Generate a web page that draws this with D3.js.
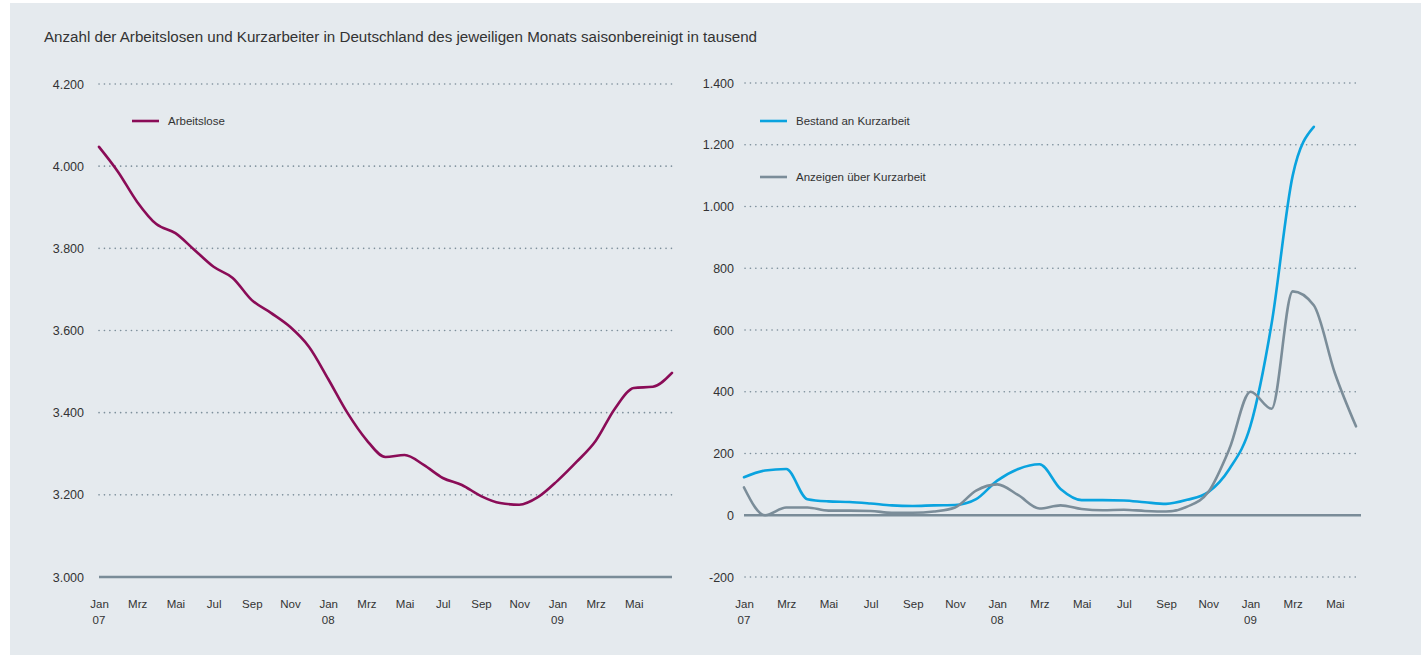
<!DOCTYPE html>
<html><head><meta charset="utf-8">
<script src="https://cdn.jsdelivr.net/npm/d3@7"></script>
<style>
html,body{margin:0;padding:0;background:#fff;}
svg{display:block;font-family:"Liberation Sans",Arial,sans-serif;}
</style></head>
<body><svg id="c" width="1421" height="655"></svg>
<script>
// ---- data ----
const xTickLabels = ["Jan","Mrz","Mai","Jul","Sep","Nov","Jan","Mrz","Mai","Jul","Sep","Nov","Jan","Mrz","Mai"];
const yearLabels = {0:"07",12:"08",24:"09"};
const leftTicks = [3000,3200,3400,3600,3800,4000,4200];
const rightTicks = [-200,0,200,400,600,800,1000,1200,1400];
// Arbeitslose, Jan 07 .. Jul 09 (thousand)
const arbeitslose = [4047,3986,3913,3859,3837,3796,3755,3728,3674,3643,3609,3560,3482,3400,3334,3292,3297,3273,3241,3224,3197,3180,3176,3195,3234,3280,3331,3409,3460,3463,3497];
// Bestand an Kurzarbeit, Jan 07 .. Apr 09
const bestand = [123,145,150,52,45,43,38,32,30,32,33,52,112,150,165,85,49,49,48,42,37,50,75,150,290,620,1100,1258];
// Anzeigen über Kurzarbeit, Jan 07 .. Jun 09
const anzeigen = [90,0,25,25,15,15,14,8,8,12,25,80,100,65,22,32,20,16,18,14,12,28,75,215,400,345,725,680,460,288];

const title = "Anzahl der Arbeitslosen und Kurzarbeiter in Deutschland des jeweiligen Monats saisonbereinigt in tausend";
const fmt = d3.formatLocale({decimal:",",thousands:".",grouping:[3],currency:["","€"],minus:"-"}).format(",d");

const C = {bg:"#e5eaee", text:"#333333", grid:"#7d8f9b", base:"#7a8c98",
  purple:"#8a0c57", blue:"#0aa3df", gray:"#7b8d99"};

const svg = d3.select("#c");
svg.append("rect").attr("x",10).attr("y",3).attr("width",1411).attr("height",652).attr("fill",C.bg);

svg.append("text").attr("x",44).attr("y",42).attr("font-size",14).attr("fill",C.text)
  .attr("textLength",713).attr("lengthAdjust","spacingAndGlyphs").text(title);

function panel(cfg){
  const x = d3.scaleLinear().domain(cfg.xDomain).range(cfg.xRange);
  const y = d3.scaleLinear().domain(cfg.yDomain).range(cfg.yRange);
  const g = svg.append("g");
  // grid
  cfg.ticks.forEach(t=>{
    if (t===cfg.baseVal) return;
    g.append("line").attr("x1",cfg.gridX[0]).attr("x2",cfg.gridX[1])
      .attr("y1",y(t)).attr("y2",y(t))
      .attr("stroke",C.grid).attr("stroke-width",1.6)
      .attr("stroke-dasharray","0.1,5.3").attr("stroke-linecap","round");
  });
  // y labels
  const ya = d3.axisLeft(y).tickValues(cfg.ticks).tickFormat(fmt).tickSize(0).tickPadding(0);
  const yg = g.append("g").attr("transform",`translate(${cfg.labelX},0)`).call(ya);
  yg.select(".domain").remove();
  yg.selectAll("text").attr("font-size",12.5).attr("fill",C.text).attr("font-family","Liberation Sans, Arial, sans-serif");
  // x labels
  const xt = d3.range(0,29,2);
  const xa = d3.axisBottom(x).tickValues(xt).tickFormat((d,i)=>xTickLabels[i]).tickSize(0).tickPadding(0);
  const xg = g.append("g").attr("transform",`translate(0,${cfg.xLabelY})`).call(xa);
  xg.select(".domain").remove();
  xg.selectAll("text").attr("font-size",11.5).attr("fill",C.text).attr("font-family","Liberation Sans, Arial, sans-serif");
  xt.forEach(d=>{
    if (yearLabels[d]!==undefined){
      g.append("text").attr("x",x(d)).attr("y",cfg.xLabelY+24).attr("text-anchor","middle")
        .attr("font-size",11.5).attr("fill",C.text).text(yearLabels[d]);
    }
  });
  // baseline
  g.append("line").attr("x1",cfg.baseX[0]).attr("x2",cfg.baseX[1])
    .attr("y1",y(cfg.baseVal)).attr("y2",y(cfg.baseVal))
    .attr("stroke",C.base).attr("stroke-width",2.6);
  // series
  const line = d3.line().x((d,i)=>x(i)).y(d=>y(d)).curve(d3.curveMonotoneX);
  cfg.series.forEach(s=>{
    g.append("path").datum(s.data).attr("d",line).attr("fill","none")
      .attr("stroke",s.color).attr("stroke-width",2.6).attr("stroke-linejoin","round").attr("stroke-linecap","round");
  });
  // legend
  cfg.series.forEach((s,i)=>{
    const ly = cfg.legend.y + i*56;
    g.append("line").attr("x1",cfg.legend.x).attr("x2",cfg.legend.x+27).attr("y1",ly).attr("y2",ly)
      .attr("stroke",s.color).attr("stroke-width",2.6);
    g.append("text").attr("x",cfg.legend.x+36).attr("y",ly+4).attr("font-size",11.5).attr("fill",C.text).text(s.name);
  });
}

panel({
  xDomain:[0,30], xRange:[99,672], yDomain:[3000,4200], yRange:[577,84],
  ticks:leftTicks, baseVal:3000, gridX:[99,672], baseX:[99,672], labelX:84, xLabelY:600,
  series:[{name:"Arbeitslose",data:arbeitslose,color:C.purple}],
  legend:{x:132,y:121}
});
panel({
  xDomain:[0,29], xRange:[744,1356], yDomain:[-200,1400], yRange:[577,83],
  ticks:rightTicks, baseVal:0, gridX:[745,1358], baseX:[744,1361], labelX:734, xLabelY:600,
  series:[{name:"Bestand an Kurzarbeit",data:bestand,color:C.blue},
          {name:"Anzeigen über Kurzarbeit",data:anzeigen,color:C.gray}],
  legend:{x:760,y:121}
});
</script></body></html>
